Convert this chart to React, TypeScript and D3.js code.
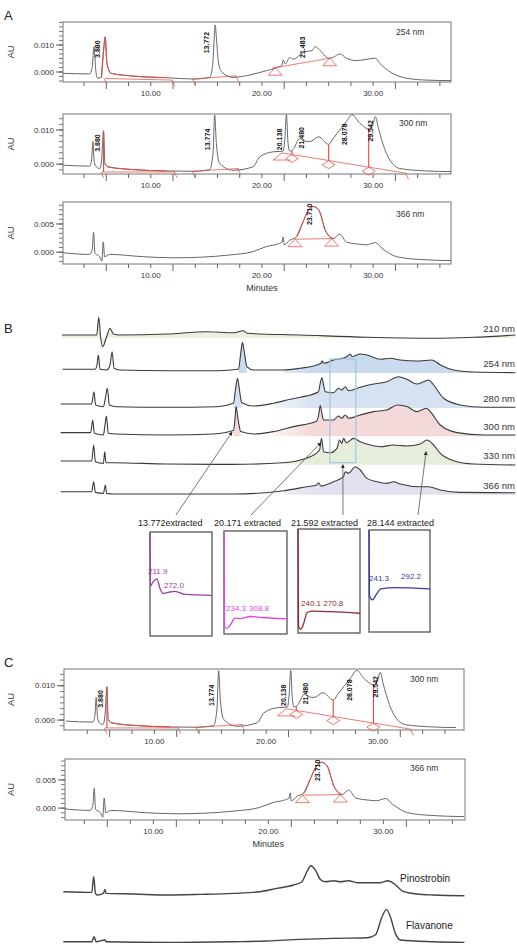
import * as d3 from 'd3'
import React from 'react'

type P = [number, number]
type Seg = [number, number, number, number]

const font = 'Liberation Sans, Arial, Helvetica, sans-serif'
const red = '#e4493f'

// chromatograms, minutes vs AU
const trace254: P[] = [
  [2.1, -0.0005], [4.5, -0.0007], [4.74, 0.002], [4.9, 0.0094], [5.04, 0.0014], [5.2, -0.0023], [5.55, -0.002],
  [5.76, 0.0081], [5.91, 0.013], [6.06, 0.0032], [6.45, -0.0005], [8.4, -0.0015], [11.4, -0.0021], [13.8, -0.0026],
  [15.3, -0.002], [15.55, 0.002], [15.7, 0.0119], [15.79, 0.0174], [15.9, 0.013], [16.06, 0.0044], [16.36, 0.0001],
  [17.4, -0.002], [18.9, -0.0011], [20.4, 0.0005], [21.2, 0.0014], [21.8, 0.0026], [21.9, 0.0044], [22.1, 0.003],
  [22.5, 0.0054], [22.8, 0.0047], [23.6, 0.0069], [23.9, 0.0075], [24.5, 0.0079], [24.8, 0.0094], [25.2, 0.0081],
  [26.0, 0.0051], [26.4, 0.0054], [27.0, 0.0067], [27.6, 0.0051], [28.5, 0.0042], [29.4, 0.0047], [30.2, 0.0051],
  [30.6, 0.0032], [31.5, 0.0001], [33.0, -0.0023], [34.8, -0.003], [37.0, -0.0032],
]
const trace300: P[] = [
  [2.1, -0.0003], [4.5, -0.0006], [4.68, 0.0012], [4.8, 0.0066], [4.92, 0.0007], [5.1, -0.0008], [5.4, -0.0013],
  [5.58, 0.0012], [5.76, 0.0098], [5.88, 0.0002], [6.15, -0.0008], [8.4, -0.0016], [11.4, -0.002], [13.8, -0.0021],
  [15.3, -0.0016], [15.6, 0.0031], [15.75, 0.0144], [15.9, 0.0061], [16.2, 0.0002], [17.4, -0.0018], [19.2, -0.0008],
  [19.8, 0.0021], [21.0, 0.0036], [21.9, 0.0038], [22.05, 0.007], [22.2, 0.0145], [22.35, 0.006], [22.5, 0.0038],
  [22.8, 0.0043], [23.4, 0.0075], [23.8, 0.0068], [24.3, 0.0066], [25.1, 0.008], [26.0, 0.0058], [26.4, 0.0075],
  [27.0, 0.01], [27.6, 0.0125], [28.1, 0.0145], [28.8, 0.012], [29.7, 0.0102], [30.0, 0.012], [30.2, 0.0139],
  [30.5, 0.0102], [31.2, 0.0031], [32.4, -0.0013], [34.8, -0.002], [37.0, -0.0022],
]
const trace366: P[] = [
  [2.1, -0.0001], [4.5, -0.0004], [4.74, 0.0005], [4.86, 0.0035], [4.98, -0.0002], [5.4, -0.0008], [5.6, -0.0016],
  [5.73, 0.0018], [5.85, -0.0008], [6.3, -0.0004], [9.3, -0.0008], [12.0, -0.001], [14.4, -0.0009], [17.1, -0.0005],
  [19.2, 0.0001], [20.4, 0.001], [21.5, 0.0015], [21.8, 0.0018], [21.9, 0.0027], [22.0, 0.0013], [22.5, 0.0021],
  [23.1, 0.0027], [23.7, 0.0054], [24.2, 0.0075], [24.6, 0.0081], [25.1, 0.0075], [25.7, 0.0039], [26.4, 0.0024],
  [27.0, 0.0032], [27.6, 0.0018], [28.8, 0.0014], [29.4, 0.0013], [30.2, 0.0017], [30.8, 0.0007], [32.1, -0.0008],
  [34.2, -0.0013], [37.0, -0.0015],
]

// peak labels [minutes, AU at label foot, text]
const peaks254: [number, number, string][] = [[5.26, 0.0052, '3.880'], [15.06, 0.0069, '13.772'], [23.7, 0.0052, '21.483']]
const peaks300: [number, number, string][] = [
  [5.26, 0.0036, '3.880'], [15.15, 0.0041, '13.774'], [21.6, 0.0041, '20.138'],
  [23.6, 0.0046, '21.480'], [27.5, 0.0056, '28.078'], [29.8, 0.0066, '29.542'],
]
const peaks366: [number, number, string][] = [[24.3, 0.0048, '23.710']]

// integration marks
const redRuns254: P[] = [[5.5, 12]]
const baselines254: Seg[] = [[5.9, -0.0024, 12.0, -0.003], [13.83, -0.0026, 17.73, -0.0014], [20.9, 0.0014, 26.1, 0.0051]]
const triangles254: P[] = [[21.2, 0.0016], [26.1, 0.0051]]
const ends254: P[] = [[5.9, -0.0024], [12.0, -0.003], [13.83, -0.0026], [17.73, -0.0014]]

const redRuns300: P[] = [[5.8, 12.2]]
const baselines300: Seg[] = [
  [5.6, -0.0023, 12.2, -0.0023], [13.8, -0.0021, 17.9, -0.0013], [21.0, 0.0012, 21.8, 0.0033],
  [21.0, 0.0012, 22.6, 0.0012], [21.8, 0.0033, 33.0, -0.0027],
]
const drops300: [number, number, number][] = [[5.76, 0.0095, -0.0023], [22.7, 0.0041, 0.0028], [26.0, 0.0058, 0.001], [29.6, 0.0105, -0.0009]]
const diamonds300: P[] = [[22.7, 0.0028], [26.0, 0.001], [29.6, -0.0009]]
const ends300: P[] = [[5.6, -0.0023], [12.2, -0.0023], [13.8, -0.0021], [17.9, -0.0013], [33.0, -0.0027]]

const redRuns366: P[] = [[22.9, 26.5]]
const baselines366: Seg[] = [[22.97, 0.0023, 26.27, 0.0024]]
const triangles366: P[] = [[22.97, 0.0023], [26.27, 0.0024]]

const xLabels = [10, 20, 30]
const xLong = [6, 12, 22, 32]

// panel B: minutes vs relative response
const b210: P[] = [
  [2.0, 0], [4.68, 0], [4.84, 17.7], [4.99, -3.3], [5.14, -11.7], [5.45, -1.7], [5.71, 6.7], [5.97, 1], [6.48, 0],
  [10.1, 1], [13.2, 3.3], [15.25, 2.3], [16.02, 4.3], [16.28, 1.7], [20.4, 0], [25.56, -2.3], [30.71, -3.3], [33.8, -2.3], [37.03, 0],
]
const b254: P[] = [
  [2.05, 0.7], [4.55, 0.7], [4.68, 3.3], [4.81, 15], [4.94, 0.7], [5.45, 0], [5.71, 5], [5.87, 18.3], [6.02, 1.7],
  [6.48, 0], [10.1, -0.7], [13.96, -0.7], [15.63, 0.7], [15.81, 16.7], [15.94, 27.7], [16.1, 16.7], [16.28, 3.3],
  [16.79, 0], [19.11, 0], [20.4, 1.7], [21.43, 4], [22.0, 6.7], [22.1, 9.3], [22.21, 6.7], [22.98, 10], [24.01, 13.3],
  [24.27, 16], [24.42, 13.3], [25.04, 16], [25.56, 15], [26.59, 10.7], [27.36, 11.7], [28.13, 10], [29.42, 9],
  [30.58, 10], [31.23, 5], [32.26, 0], [33.8, -2], [37.03, -2.7],
]
const b280: P[] = [
  [1.9, 1], [4.29, 1], [4.47, 13.3], [4.6, 0], [5.2, -1.7], [5.35, 6.7], [5.5, 16.7], [5.66, 0], [6.23, -1.7],
  [10.1, -2.3], [13.96, -1.7], [15.25, 1.7], [15.4, 15], [15.56, 26.7], [15.71, 15], [15.89, 2.3], [16.79, -1],
  [18.34, 1.7], [19.63, 5.7], [20.4, 7.7], [21.82, 13.3], [21.95, 21.7], [22.08, 27.3], [22.21, 20], [22.34, 13.3],
  [22.98, 12.3], [23.37, 16.7], [23.62, 15], [23.88, 18.3], [24.14, 14.3], [25.04, 17.7], [26.07, 21], [27.1, 23.3],
  [28.0, 28.3], [28.65, 25.7], [29.42, 21], [29.94, 23.3], [30.32, 25], [30.71, 20], [31.48, 6.7], [32.77, 0],
  [34.58, -2.3], [37.03, -2.3],
]
const b300: P[] = [
  [1.9, 0.7], [4.22, 0.7], [4.37, 13.3], [4.5, 0], [5.2, -1.7], [5.32, 8.3], [5.43, 17.3], [5.58, 0], [6.23, -0.7],
  [10.1, -1.7], [13.7, -0.7], [15.25, 2.7], [15.38, 16.7], [15.45, 26.7], [15.61, 13.3], [15.81, 1.7], [16.79, -0.7],
  [18.34, 1.7], [19.89, 6.7], [21.69, 12.3], [21.85, 20], [21.95, 27.7], [22.08, 20], [22.21, 13.3], [22.98, 13.3],
  [23.37, 17.3], [23.62, 15], [23.88, 18.3], [24.14, 15], [25.04, 18.3], [26.07, 21.7], [27.1, 23.3], [27.93, 28.3],
  [28.65, 26.7], [29.42, 21.7], [30.14, 25], [30.45, 21.7], [31.23, 8.3], [32.52, 0.7], [34.58, -1.7], [37.03, -1.7],
]
const b330: P[] = [
  [1.9, 0.7], [4.29, 0.7], [4.45, 16.7], [4.58, 0], [5.2, -1.7], [5.3, 10], [5.4, -1], [5.97, -1], [10.1, -2.3],
  [15.25, -2.7], [19.11, -1], [21.18, 5], [21.9, 11.7], [22.05, 23.3], [22.21, 10], [22.72, 9], [23.24, 13.3],
  [23.44, 21.7], [23.62, 18.3], [23.75, 23.3], [23.96, 19], [24.53, 23.3], [25.04, 20], [25.81, 16.7], [26.59, 15],
  [27.62, 16.7], [28.65, 15.7], [29.68, 17.7], [30.2, 21.7], [30.71, 16.7], [31.23, 8.3], [32.26, 1], [33.8, -2.3], [37.03, -3.3],
]
const b366: P[] = [
  [1.9, 0], [4.29, 0], [4.45, 10], [4.58, -0.7], [5.2, -1.7], [5.35, 6.7], [5.45, -1.7], [5.97, -2.3], [10.1, -2.3],
  [15.25, -2.3], [19.11, 1], [20.92, 5], [21.69, 6.7], [21.82, 9], [22.0, 5.7], [22.98, 10], [23.75, 15], [23.88, 20],
  [24.14, 18.3], [24.65, 25], [25.04, 21.7], [25.56, 13.3], [26.33, 10], [27.1, 8.3], [27.62, 10], [28.13, 7.7],
  [29.68, 5], [30.32, 5], [31.23, 1.7], [32.77, -0.7], [37.03, -1],
]

// extracted UV spectra, nm vs relative absorbance
const spec13772: P[] = [[200, 1], [201.6, 0.48], [209.7, 0.52], [222.6, 0.55], [232, 0.46], [242, 0.41], [258, 0.42], [280.6, 0.43], [313, 0.4], [400, 0.39]]
const spec20171: P[] = [[200, 1], [201.6, 0.078], [209.5, 0.053], [222, 0.097], [235, 0.155], [251, 0.15], [283, 0.17], [321, 0.16], [400, 0.146]]
const spec21592: P[] = [[200, 1], [201.6, 0.065], [209.7, 0.036], [219.4, 0.103], [229, 0.195], [245, 0.21], [303, 0.205], [400, 0.19]]
const spec28144: P[] = [[200, 1], [201.6, 0.353], [211.5, 0.314], [223, 0.363], [239, 0.422], [285, 0.436], [400, 0.422]]

// standards
const pinostrobin: P[] = [
  [1.86, 0], [4.4, -0.7], [4.58, 15], [4.73, -1.7], [4.9, -3.3], [5.44, -1.7], [5.59, 2.3], [5.68, -1.7], [8.13, -2.3],
  [11.11, -3.3], [14.1, -2.7], [17.08, -1.7], [19.47, 0], [20.96, 3.3], [22.46, 6.7], [23.2, 10], [23.65, 20],
  [24.01, 26], [24.4, 21.7], [24.85, 12.3], [25.29, 10], [26.04, 11], [26.64, 10], [27.38, 11], [28.13, 9], [29.02, 9],
  [30.22, 9], [30.9, 11], [31.41, 8.3], [32.31, 0], [33.5, -2.3], [35.0, -3.3], [37.74, -4],
]
const flavanone: P[] = [
  [1.86, 0], [4.4, 0], [4.61, 5], [4.79, 0], [5.59, 1.7], [5.68, 0], [11.11, -0.7], [17.08, 0], [20.07, 0.7],
  [23.05, 2.3], [26.04, 3.3], [29.02, 4], [29.77, 6.7], [30.37, 25], [30.76, 32.3], [31.11, 25], [31.56, 8.3],
  [32.01, 1.7], [35.0, 0], [37.74, -0.7],
]

interface Chrom {
  id: string
  left: number; right: number; top: number; bottom: number
  t: P; a: P; major: number[]; label: string; labelX: number; labelY: number
  trace: P[]; peaks: [number, number, string][]
  runs: P[]; baselines: Seg[]; triangles?: P[]; diamonds?: P[]; drops?: [number, number, number][]; ends?: P[]
  minutes?: number
}

const charts: Chrom[] = [
  { id: 'a1', left: 63, right: 451, top: 22, bottom: 82, t: [2.11, 37], a: [-0.0037, 0.0185], major: [0, 0.01], label: '254 nm', labelX: 396, labelY: 35,
    trace: trace254, peaks: peaks254, runs: redRuns254, baselines: baselines254, triangles: triangles254, ends: ends254 },
  { id: 'a2', left: 63, right: 451, top: 114, bottom: 174, t: [2.11, 37], a: [-0.0029, 0.0147], major: [0, 0.01], label: '300 nm', labelX: 399, labelY: 126,
    trace: trace300, peaks: peaks300, runs: redRuns300, baselines: baselines300, diamonds: diamonds300, drops: drops300, ends: ends300 },
  { id: 'a3', left: 63, right: 451, top: 202, bottom: 264, t: [2.11, 37], a: [-0.0021, 0.0089], major: [0, 0.005], label: '366 nm', labelX: 396, labelY: 217,
    trace: trace366, peaks: peaks366, runs: redRuns366, baselines: baselines366, triangles: triangles366, minutes: 291 },
  { id: 'c1', left: 64, right: 464, top: 669, bottom: 730, t: [1.92, 37.7], a: [-0.0029, 0.0149], major: [0, 0.01], label: '300 nm', labelX: 410, labelY: 682,
    trace: trace300, peaks: peaks300, runs: redRuns300, baselines: baselines300, diamonds: diamonds300, drops: drops300, ends: ends300 },
  { id: 'c2', left: 65, right: 465, top: 759, bottom: 820, t: [2.32, 37.1], a: [-0.0021, 0.0087], major: [0, 0.005], label: '366 nm', labelX: 410, labelY: 771,
    trace: trace366, peaks: peaks366, runs: redRuns366, baselines: baselines366, triangles: triangles366, minutes: 847 },
]

const Chromatogram = ({ c }: { c: Chrom }) => {
  const x = d3.scaleLinear().domain(c.t).range([c.left, c.right])
  const y = d3.scaleLinear().domain(c.a).range([c.bottom, c.top])
  const line = d3.line<P>().x(d => x(d[0])).y(d => y(d[1])).curve(d3.curveMonotoneX)
  const step = c.major[1] / 6
  const minor = d3.range(Math.ceil(c.a[0] / step), Math.floor(c.a[1] / step) + 1).map(i => i * step)
  const xMinor = d3.range(4, c.t[1], 2)
  return (
    <g>
      <rect x={c.left} y={c.top} width={c.right - c.left} height={c.bottom - c.top} fill='none' stroke='#777' strokeWidth={1} />
      {minor.map((v, i) => <line key={i} x1={c.left - 4} x2={c.left} y1={y(v)} y2={y(v)} stroke='#777' />)}
      {c.major.map(v => (
        <g key={v}>
          <line x1={c.left - 7} x2={c.left} y1={y(v)} y2={y(v)} stroke='#555' />
          <text x={c.left - 9} y={y(v)} dy='0.33em' textAnchor='end' fontSize={8} fill='#333'>{d3.format('.3f')(v)}</text>
        </g>
      ))}
      <text transform={`translate(14,${(c.top + c.bottom) / 2}) rotate(-90)`} textAnchor='middle' fontSize={9.5} fill='#333'>AU</text>
      {xMinor.map(t => (
        <line key={t} x1={x(t)} x2={x(t)} y1={c.bottom} y2={c.bottom + (xLong.includes(t) ? 7 : 4)} stroke='#666' />
      ))}
      {xLabels.map(t => (
        <text key={t} x={x(t)} y={c.bottom + 14} textAnchor='middle' fontSize={8} fill='#333'>{d3.format('.2f')(t)}</text>
      ))}
      {c.minutes && <text x={x(20)} y={c.minutes} textAnchor='middle' fontSize={9} fill='#333'>Minutes</text>}
      <text x={c.labelX} y={c.labelY} fontSize={8.5} fill='#333'>{c.label}</text>
      <defs><clipPath id={'clip-' + c.id}><rect x={c.left} y={c.top - 2} width={c.right - c.left} height={c.bottom - c.top + 2} /></clipPath></defs>
      <path d={line(c.trace) as string} fill='none' stroke='#666' strokeWidth={1} clipPath={`url(#clip-${c.id})`} />
      {c.runs.map((r, i) => (
        <path key={i} d={line(c.trace.filter(d => d[0] >= r[0] && d[0] <= r[1])) as string} fill='none' stroke={red} strokeWidth={1} />
      ))}
      {c.baselines.map((s, i) => (
        <line key={i} x1={x(s[0])} y1={y(s[1])} x2={x(s[2])} y2={y(s[3])} stroke={red} strokeWidth={0.9} opacity={0.8} />
      ))}
      {(c.ends || []).map((p, i) => (
        <line key={i} x1={x(p[0]) - 1} y1={y(p[1])} x2={x(p[0]) + 2} y2={y(p[1]) + 6} stroke={red} strokeWidth={0.9} opacity={0.8} />
      ))}
      {(c.drops || []).map((p, i) => (
        <line key={i} x1={x(p[0])} x2={x(p[0])} y1={y(p[1])} y2={y(p[2])} stroke={red} strokeWidth={1.1} />
      ))}
      {(c.triangles || []).map((p, i) => {
        const px = x(p[0]), py = y(p[1])
        return <path key={i} d={`M${px},${py}L${px + 7},${py + 7.5}L${px - 7},${py + 7.5}Z`} fill='none' stroke={red} strokeWidth={0.9} opacity={0.8} />
      })}
      {(c.diamonds || []).map((p, i) => {
        const px = x(p[0]), py = y(p[1])
        return <path key={i} d={`M${px},${py}L${px + 6.5},${py + 4}L${px},${py + 8}L${px - 6.5},${py + 4}Z`} fill='none' stroke={red} strokeWidth={0.9} opacity={0.8} />
      })}
      {c.peaks.map((p, i) => (
        <text key={i} transform={`translate(${x(p[0])},${y(p[1])}) rotate(-90)`} dominantBaseline='middle'
          fontSize={7} fontWeight='bold' fontFamily='Liberation Sans Narrow, Liberation Sans, Arial' fill='#111'>{p[2]}</text>
      ))}
    </g>
  )
}

// fills: [from, to, full colour reached at]
interface Row { label: string; base: number; data: P[]; fill: string; fills: [number, number, number][] }

const rows: Row[] = [
  { label: '210 nm', base: 335, data: b210, fill: '#eef0df', fills: [[2, 37.03, 2]] },
  { label: '254 nm', base: 370, data: b254, fill: '#cbdbef', fills: [[15.5, 16.5, 15.5], [16.8, 37.03, 21]] },
  { label: '280 nm', base: 405, data: b280, fill: '#d6e1f1', fills: [[15.2, 16], [16.8, 37.03, 21.5]] as [number, number, number][] },
  { label: '300 nm', base: 433.3, data: b300, fill: '#f3d9d8', fills: [[15.2, 16, 15.2], [16.8, 37.03, 21.5]] },
  { label: '330 nm', base: 461.7, data: b330, fill: '#e6eddb', fills: [[15.3, 37.03, 21.5]] },
  { label: '366 nm', base: 491.7, data: b366, fill: '#e4e0f0', fills: [[15.3, 37.03, 21.5]] },
]

const spectra = [
  { title: '13.772extracted', tx: 138, left: 150, right: 212, top: 532, bottom: 636, color: '#9b3fa0', data: spec13772,
    marks: [[193.5, 0.6, '211.9'], [245, 0.46, '272.0']] as [number, number, string][] },
  { title: '20.171 extracted', tx: 214, left: 224, right: 287, top: 531, bottom: 634, color: '#e246e6', data: spec20171,
    marks: [[206.3, 0.223, '234.3'], [279.4, 0.223, '308.8']] as [number, number, string][] },
  { title: '21.592 extracted', tx: 291, left: 298, right: 360, top: 529, bottom: 633, color: '#8e2e30', data: spec21592,
    marks: [[209.7, 0.26, '240.1 270.8']] as [number, number, string][] },
  { title: '28.144 extracted', tx: 367, left: 369, right: 430, top: 530, bottom: 632, color: '#3b3b9e', data: spec28144,
    marks: [[200, 0.5, '241.3'], [305, 0.52, '292.2']] as [number, number, string][] },
]

// arrows from each extracted spectrum label to its peak: [minutes, row, response]
const arrowTargets: [number, number, number][] = [[15.14, 3, 1.3], [22.0, 4, 19], [23.7, 4, -3], [30.13, 4, 10]]
const arrowStartX = [176, 251, 343, 418]
const boxRange: P = [22.7, 24.7]

const PanelB = () => {
  const x = d3.scaleLinear().domain([2, 37]).range([62, 515])
  const rowY = (r: Row) => d3.scaleLinear().domain([0, 30]).range([r.base, r.base - 30])
  return (
    <g>
      <defs>
        <marker id='ah' viewBox='0 0 10 10' refX={9} refY={5} markerWidth={5} markerHeight={5} orient='auto'>
          <path d='M0,0L10,5L0,10Z' fill='#222' />
        </marker>
        {rows.map((r, ri) => r.fills.map((f, i) => (
          <linearGradient key={`${ri}-${i}`} id={`fade-${ri}-${i}`} gradientUnits='userSpaceOnUse' x1={x(f[0])} x2={x(f[2] ?? f[0])} y1={0} y2={0}>
            <stop offset='0' stopColor={r.fill} stopOpacity={f[2] === undefined || f[2] === f[0] ? 1 : 0} />
            <stop offset='1' stopColor={r.fill} stopOpacity={1} />
          </linearGradient>
        )))}
      </defs>
      {rows.map((r, ri) => {
        const y = rowY(r)
        const area = d3.area<P>().x(d => x(d[0])).y0(r.base + 3).y1(d => y(d[1])).curve(d3.curveMonotoneX)
        const line = d3.line<P>().x(d => x(d[0])).y(d => y(d[1])).curve(d3.curveMonotoneX)
        return (
          <g key={r.label}>
            {r.fills.map((f, i) => (
              <path key={i} d={area(r.data.filter(d => d[0] >= f[0] && d[0] <= f[1])) as string}
                fill={f[2] === undefined || f[2] === f[0] ? r.fill : `url(#fade-${ri}-${i})`} />
            ))}
            <path d={line(r.data) as string} fill='none' stroke='#3a3a3a' strokeWidth={1.1} />
            <text x={515} y={r.base - 3} textAnchor='end' fontSize={9.5} fill='#333'>{r.label}</text>
          </g>
        )
      })}
      <rect x={x(boxRange[0])} y={rowY(rows[1])(11)} width={x(boxRange[1]) - x(boxRange[0])}
        height={rowY(rows[4])(-1) - rowY(rows[1])(11)} fill='none' stroke='#9fc6e6' strokeWidth={1.2} />
      {arrowTargets.map((a, i) => (
        <line key={i} x1={arrowStartX[i]} y1={515} x2={x(a[0])} y2={rowY(rows[a[1]])(a[2])} stroke='#555' strokeWidth={0.8} markerEnd='url(#ah)' />
      ))}
      {spectra.map(s => {
        const sx = d3.scaleLinear().domain([200, 400]).range([s.left, s.right])
        const sy = d3.scaleLinear().domain([0, 1]).range([s.bottom, s.top])
        const line = d3.line<P>().x(d => sx(d[0])).y(d => sy(d[1])).curve(d3.curveMonotoneX)
        return (
          <g key={s.title}>
            <text x={s.tx} y={526} fontSize={9} fill='#222'>{s.title}</text>
            <rect x={s.left} y={s.top} width={s.right - s.left} height={s.bottom - s.top} fill='none' stroke='#555' strokeWidth={1.3} />
            <path d={line(s.data) as string} fill='none' stroke={s.color} strokeWidth={1.3} />
            {s.marks.map((m, i) => (
              <text key={i} x={sx(m[0])} y={sy(m[1])} fontSize={8} fill={s.color}>{m[2]}</text>
            ))}
          </g>
        )
      })}
    </g>
  )
}

const Standards = () => {
  const x = d3.scaleLinear().domain([1.92, 37.7]).range([64, 464])
  const items = [
    { name: 'Pinostrobin', base: 891.7, data: pinostrobin, lx: 400, ly: 882 },
    { name: 'Flavanone', base: 941.7, data: flavanone, lx: 406, ly: 929 },
  ]
  return (
    <g>
      {items.map(it => {
        const y = d3.scaleLinear().domain([0, 30]).range([it.base, it.base - 30])
        const line = d3.line<P>().x(d => x(d[0])).y(d => y(d[1])).curve(d3.curveMonotoneX)
        return (
          <g key={it.name}>
            <path d={line(it.data) as string} fill='none' stroke='#444' strokeWidth={1.4} />
            <text x={it.lx} y={it.ly} fontSize={10} fill='#222'>{it.name}</text>
          </g>
        )
      })}
    </g>
  )
}

export default function App() {
  return (
    <svg width={517} height={946} style={{ position: 'absolute', left: 0, top: 0, background: '#fff' }} fontFamily={font}>
      <rect width={517} height={946} fill='#fff' />
      <text x={4} y={20} fontSize={13} fill='#222'>A</text>
      <text x={4} y={333} fontSize={13} fill='#222'>B</text>
      <text x={4} y={667} fontSize={13} fill='#222'>C</text>
      {charts.map(c => <Chromatogram key={c.id} c={c} />)}
      <PanelB />
      <Standards />
    </svg>
  )
}
